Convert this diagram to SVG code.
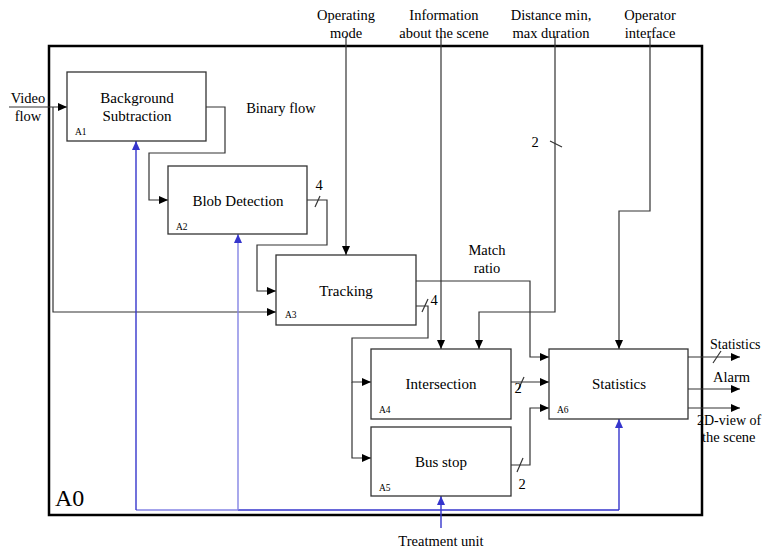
<svg xmlns="http://www.w3.org/2000/svg" width="764" height="550" viewBox="0 0 764 550">
<defs>
<marker id="ah" markerUnits="userSpaceOnUse" markerWidth="10" markerHeight="10" refX="9" refY="4" orient="auto">
<path d="M0,0 L9,4 L0,8 Z" fill="#000"/>
</marker>
<marker id="ahb" markerUnits="userSpaceOnUse" markerWidth="10" markerHeight="10" refX="9" refY="4" orient="auto">
<path d="M0,0 L9,4 L0,8 Z" fill="#3535cc"/>
</marker>
<style>
.box{fill:#fff;stroke:#333;stroke-width:1.3}
.t{font-family:"Liberation Serif","Times New Roman",serif;font-size:15px;fill:#000;text-anchor:middle}
.l{font-family:"Liberation Serif","Times New Roman",serif;font-size:14.5px;fill:#000;text-anchor:middle}
.id{font-family:"Liberation Serif","Times New Roman",serif;font-size:9.5px;fill:#000}
.c{fill:none;stroke:#333;stroke-width:1.2}
.a{marker-end:url(#ah)}
.b{fill:none;stroke:#3535cc;stroke-width:1.4}
.bl{fill:none;stroke:#8484e4;stroke-width:1.4}
</style>
</defs>
<rect width="764" height="550" fill="#fff"/>
<rect id="frame" x="49" y="46" width="653" height="469" fill="none" stroke="#000" stroke-width="2.5"/>
<text x="55" y="506" font-family="Liberation Serif, serif" font-size="24" fill="#000">A0</text>

<g id="connectors">
<path class="c a" d="M9,107 H67"/>
<path class="c a" d="M53,107 V312 H276"/>
<path class="c a" d="M206,107 H225 V153 H149 V200 H168"/>
<path class="c a" d="M307,200 H327 V245 H257 V291 H276"/>
<path class="c a" d="M346,36 V255"/>
<path class="c a" d="M441,36 V349"/>
<path class="c a" d="M555,36 V312 H479 V349"/>
<path class="c a" d="M650,36 V211 H619 V349"/>
<path class="c a" d="M416,281 H530 V357 H549"/>
<path class="c a" d="M416,306 H428 V338 H352 V382 H371"/>
<path class="c a" d="M352,382 V458 H371"/>
<path class="c a" d="M511,382 H549"/>
<path class="c a" d="M511,465 H530 V408 H549"/>
<path class="c a" d="M688,357 H740"/>
<path class="c a" d="M688,389 H740"/>
<path class="c a" d="M688,408 H740"/>
<path class="c" d="M315,207 L320,196"/>
<path class="c" d="M422,312 L428,299"/>
<path class="c" d="M550,141 L562,147"/>
<path class="c" d="M518,390 L524,377"/>
<path class="c" d="M517,472 L523,458"/>
<path class="c" d="M713,363 L721,351"/>
<path class="bl" d="M136,510 H238"/>
<path class="b" d="M238,510 H619"/>
<path class="b" d="M136,510 V141" marker-end="url(#ahb)"/>
<path class="bl" d="M238,510 V234" marker-end="url(#ahb)"/>
<path class="b" d="M619,510 V419" marker-end="url(#ahb)"/>
<path class="b" d="M441,528 V496" stroke-width="2" marker-end="url(#ahb)"/>
</g>

<g id="A1">
<rect class="box" x="67" y="72" width="139" height="69"/>
<text class="t" x="137" y="103">Background</text>
<text class="t" x="137" y="121">Subtraction</text>
<text class="id" x="75" y="135">A1</text>
</g>
<g id="A2">
<rect class="box" x="168" y="166" width="139" height="68"/>
<text class="t" x="238" y="206">Blob Detection</text>
<text class="id" x="176" y="230">A2</text>
</g>
<g id="A3">
<rect class="box" x="276" y="255" width="140" height="70"/>
<text class="t" x="346" y="296">Tracking</text>
<text class="id" x="285" y="318">A3</text>
</g>
<g id="A4">
<rect class="box" x="371" y="349" width="140" height="70"/>
<text class="t" x="441" y="389">Intersection</text>
<text class="id" x="379" y="413">A4</text>
</g>
<g id="A5">
<rect class="box" x="371" y="427" width="140" height="69"/>
<text class="t" x="441" y="467">Bus stop</text>
<text class="id" x="379" y="491">A5</text>
</g>
<g id="A6">
<rect class="box" x="549" y="349" width="139" height="70"/>
<text class="t" x="619" y="389">Statistics</text>
<text class="id" x="557" y="413">A6</text>
</g>

<g id="labels">
<text class="l" x="28" y="103">Video</text>
<text class="l" x="28" y="121">flow</text>
<text class="l" x="281" y="113">Binary flow</text>
<text class="l" x="346" y="20">Operating</text>
<text class="l" x="346" y="38">mode</text>
<text class="l" x="444" y="20">Information</text>
<text class="l" x="444" y="38">about the scene</text>
<text class="l" x="551" y="20">Distance min,</text>
<text class="l" x="551" y="38">max duration</text>
<text class="l" x="650" y="20">Operator</text>
<text class="l" x="650" y="38">interface</text>
<text class="l" x="535" y="147">2</text>
<text class="l" x="319" y="190">4</text>
<text class="l" x="434" y="305">4</text>
<text class="l" x="487" y="255">Match</text>
<text class="l" x="487" y="273">ratio</text>
<text class="l" x="518" y="393">2</text>
<text class="l" x="522" y="489">2</text>
<text class="l" x="710" y="349" style="text-anchor:start;font-size:14px">Statistics</text>
<text class="l" x="713" y="382" style="text-anchor:start">Alarm</text>
<text class="l" x="697" y="425" style="text-anchor:start;font-size:14px">2D-view of</text>
<text class="l" x="702" y="442" style="text-anchor:start">the scene</text>
<text class="l" x="441" y="546">Treatment unit</text>
</g>
</svg>
